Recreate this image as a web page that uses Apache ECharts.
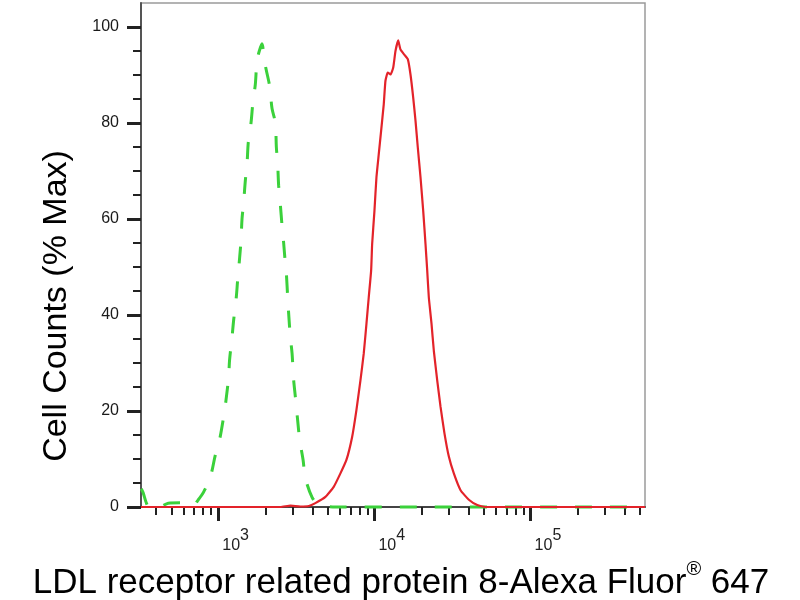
<!DOCTYPE html>
<html style="height: 100%">

<head>
    <meta charset="utf-8">
    <script type="text/javascript" src="https://cdn.jsdelivr.net/npm/echarts@6/dist/echarts.min.js"></script>
</head>

<body style="height: 100%; margin: 0; background: #fff">
    <div id="container" style="width: 800px; height: 600px"></div>
    <script type="text/javascript">
        // isotype control (green dashed)
        var isoX = [321, 330, 345, 360, 420, 478, 571, 642, 691, 744, 805, 889, 957, 1019, 1081, 1120, 1164,
            1181, 1224, 1254, 1304, 1330, 1369, 1398, 1419, 1453, 1490, 1528, 1557, 1620, 1669, 1726, 1770,
            1831, 1905, 1971, 2030, 2132, 2209, 2320, 2354, 2400, 2435, 2497, 2560, 2622, 2688, 2729, 2782,
            2823, 2895, 2968, 3040, 3117, 3224, 3321, 3492, 3613, 3987, 4294, 4853, 5623, 540000];
        var isoY = [3.8, 3, 1, 0, 0, 0.8, 0.9, 0.5, 0.3, 1.5, 3.1, 6.2, 10.8, 14, 18.7, 22.2, 27,
            30.6, 35.3, 38.9, 43.7, 47.2, 51.8, 55.5, 60, 63.4, 68, 71.5, 76, 80, 84.6, 88, 93,
            95, 96.5, 93, 91, 87.7, 83, 80, 75, 71.5, 67, 63, 58.6, 55, 50.7, 48.6, 43.7,
            40.3, 35.3, 32, 26.4, 22.9, 18, 14, 9.8, 6, 2, 0.8, 0.2, 0, 0];

        // LRP8 stained sample (red)
        var sampleX = [320, 2500, 2900, 3350, 3800, 4185, 4853, 5485, 6056, 6614, 7196, 7665, 8134, 8541,
            8889, 9194, 9524, 9667, 10000, 10299, 10656, 11037, 11470, 11763, 12170, 12665, 13180, 13636,
            14190, 14678, 15570, 16349, 17013, 17705, 18316, 18950, 19720, 20520, 21228, 21767, 22288,
            23194, 23991, 25227, 26488, 28093, 29947, 32233, 35600, 40230, 45530, 51460, 540000];
        var sampleY = [0, 0, 0.3, 0.1, 0.2, 0.8, 2.1, 4.2, 7, 9.8, 14.6, 20.2, 26.4, 32,
            38.2, 43.7, 49.3, 54.8, 61.7, 68.7, 73.5, 78.4, 83.9, 88.8, 90.5, 90.1, 91.5, 95,
            97.2, 95.3, 94.2, 93.3, 90.1, 85.3, 80.5, 74.9, 68.7, 61.7, 54.8, 49.3, 43.7,
            38.2, 32.6, 26.4, 20.9, 15.3, 10.5, 7, 3.5, 1.5, 0.4, 0, 0];

        var xMajorTicks = [1000, 10000, 100000];
        var xMinorTicks = [400, 500, 600, 700, 800, 900, 2000, 3000, 4000, 5000, 6000, 7000, 8000, 9000,
            20000, 30000, 40000, 50000, 60000, 70000, 80000, 90000, 200000, 300000, 400000, 500000];
        var yMajorTicks = [0, 20, 40, 60, 80, 100];
        var yMinorTicks = [5, 10, 15, 25, 30, 35, 45, 50, 55, 65, 70, 75, 85, 90, 95];

        var xTitle = 'LDL receptor related protein 8-Alexa Fluor';
        var yTitle = 'Cell Counts (% Max)';

        function pairs(xs, ys) {
            return xs.map(function (x, i) { return [x, ys[i]]; });
        }

        var dom = document.getElementById('container');
        var myChart = echarts.init(dom);
        var font = 'Liberation Sans, Arial, sans-serif';

        var option = {
            backgroundColor: '#fff',
            animation: false,
            grid: {
                left: 141, right: 155, top: 3, bottom: 93,
                show: true, borderColor: '#9a9a9a', borderWidth: 1.5
            },
            xAxis: [{
                type: 'log', logBase: 10, min: 320, max: 540000,
                position: 'bottom',
                axisLine: { lineStyle: { color: '#444', width: 2 } },
                axisTick: { customValues: xMajorTicks, length: 14, lineStyle: { color: '#222', width: 3 } },
                axisLabel: {
                    customValues: xMajorTicks, margin: 21, align: 'left', color: '#222',
                    formatter: function (v) { return '{b|10}{s|' + Math.round(Math.log10(v)) + '}'; },
                    rich: {
                        b: { fontSize: 16, fontFamily: font, color: '#222', verticalAlign: 'bottom', lineHeight: 26, padding: [0, 0, 0, 4] },
                        s: { fontSize: 16, fontFamily: font, color: '#222', verticalAlign: 'top', lineHeight: 16 }
                    }
                },
                splitLine: { show: false }
            }, {
                type: 'log', logBase: 10, min: 320, max: 540000,
                position: 'bottom', offset: 0,
                axisLine: { show: false },
                axisTick: { customValues: xMinorTicks, length: 8, lineStyle: { color: '#222', width: 2 } },
                axisLabel: { show: false },
                splitLine: { show: false }
            }],
            yAxis: [{
                type: 'value', min: 0, max: 105,
                position: 'left',
                axisLine: { show: true, lineStyle: { color: '#555', width: 2 } },
                axisTick: { show: true, customValues: yMajorTicks, length: 14, lineStyle: { color: '#222', width: 3 } },
                axisLabel: { customValues: yMajorTicks, margin: 22, fontSize: 16, fontFamily: font, color: '#1a1a1a' },
                splitLine: { show: false }
            }, {
                type: 'value', min: 0, max: 105,
                position: 'left', offset: 0,
                axisLine: { show: false },
                axisTick: { show: true, customValues: yMinorTicks, length: 8, lineStyle: { color: '#222', width: 2 } },
                axisLabel: { show: false },
                splitLine: { show: false }
            }],
            graphic: [{
                type: 'text', x: 401, y: 580,
                style: {
                    text: '{b|' + xTitle + '}{r|®}{b| 647}',
                    align: 'center', verticalAlign: 'middle',
                    rich: {
                        b: { fontSize: 35, fontFamily: font, fill: '#000', verticalAlign: 'bottom', lineHeight: 42 },
                        r: { fontSize: 20, fontFamily: font, fill: '#000', verticalAlign: 'top', lineHeight: 20 }
                    }
                }
            }, {
                type: 'text', x: 57, y: 306, rotation: Math.PI / 2,
                style: {
                    text: yTitle, fontSize: 34, fontFamily: font, fill: '#000',
                    align: 'center', verticalAlign: 'middle'
                }
            }],
            series: [{
                name: 'Isotype',
                type: 'line',
                xAxisIndex: 0, yAxisIndex: 0,
                data: pairs(isoX, isoY),
                showSymbol: false,
                smooth: 0.3,
                clip: false,
                lineStyle: { color: '#3bd13b', width: 3, type: [17, 18] }
            }, {
                name: 'LRP8',
                type: 'line',
                xAxisIndex: 0, yAxisIndex: 0,
                data: pairs(sampleX, sampleY),
                showSymbol: false,
                smooth: 0.15,
                clip: false,
                lineStyle: { color: '#e3232a', width: 2.2 }
            }]
        };

        myChart.setOption(option);
    </script>
</body>

</html>
